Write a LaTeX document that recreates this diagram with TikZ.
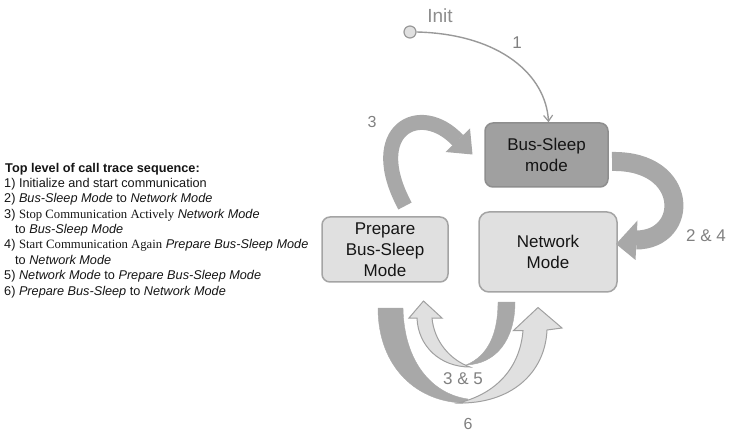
\documentclass[tikz,border=0pt]{standalone}
\usepackage{fontspec}
\setmainfont{Liberation Sans}
\newfontfamily\serifface{Liberation Serif}
\usetikzlibrary{arrows.meta,calc}

\definecolor{boxlight}{HTML}{E0E0E0}
\definecolor{boxedge}{HTML}{A4A4A4}
\definecolor{boxdark}{HTML}{A0A0A0}
\definecolor{boxdarkedge}{HTML}{8E8E8E}
\definecolor{bandgrey}{HTML}{A8A8A8}
\definecolor{bandlight}{HTML}{E0E0E0}
\definecolor{bandedge}{HTML}{A0A0A0}
\definecolor{labelgrey}{HTML}{808080}
\definecolor{textdark}{HTML}{151515}

\tikzset{
  statebox/.style={rectangle, rounded corners=8pt, line width=1.5pt,
    align=center, inner sep=0pt, text=textdark,
    font=\fontsize{17}{21}\selectfont},
  lightbox/.style={statebox, fill=boxlight, draw=boxedge},
  darkbox/.style={statebox, fill=boxdark, draw=boxdarkedge},
  steplabel/.style={text=labelgrey, inner sep=0pt, font=\fontsize{17}{20}\selectfont},
  legendline/.style={anchor=base west, inner sep=0pt, text=textdark,
    font=\fontsize{12.7}{15}\selectfont},
  initline/.style={draw=labelgrey!80, line width=1.4pt,
    -{Straight Barb[length=6pt,width=9pt,line width=1.2pt]}},
  darkband/.style={fill=bandgrey, draw=bandgrey, line width=0.4pt},
  lightband/.style={fill=bandlight, draw=bandedge, line width=1pt, line join=miter},
}

\begin{document}
\begin{tikzpicture}[x=1pt,y=-1pt]
\useasboundingbox (0,0) rectangle (730,435);

% ---- legend ----
\node[legendline] (l0) at (5,172.3) {\textbf{Top level of call trace sequence:}};
\node[legendline] (l1) at (4,187.6) {1) Initialize and start communication};
\node[legendline] (l2) at (4,203.0) {2) \textit{Bus-Sleep Mode} to \textit{Network Mode}};
\node[legendline] (l3) at (4,218.3) {3) {\serifface Stop Communication Actively} \textit{Network Mode}};
\node[legendline] (l4) at (15,233.7) {to \textit{Bus-Sleep Mode}};
\node[legendline] (l5) at (4,249.0) {4) {\serifface Start Communication Again} \textit{Prepare Bus-Sleep Mode}};
\node[legendline] (l6) at (15,264.4) {to \textit{Network Mode}};
\node[legendline] (l7) at (4,279.7) {5) \textit{Network Mode} to \textit{Prepare Bus-Sleep Mode}};
\node[legendline] (l8) at (4,295.1) {6) \textit{Prepare Bus-Sleep} to \textit{Network Mode}};

% ---- states ----
\node[darkbox, minimum width=123pt, minimum height=64pt] (bus) at (546.5,155) {Bus-Sleep\\mode};
\node[lightbox, rounded corners=10pt, minimum width=138pt, minimum height=80pt] (net) at (548,252) {Network\\Mode};
\node[lightbox, minimum width=126pt, minimum height=65pt] (prep) at (385,249.5) {Prepare\\Bus-Sleep\\Mode};

% ---- initial state ----
\node[circle, minimum size=12pt, inner sep=0pt, fill=boxlight, draw=labelgrey!80, line width=1.2pt] (init) at (410,32) {};
\node[steplabel, font=\fontsize{19}{22}\selectfont, text=labelgrey!90] (initlbl) at (440,16) {Init};
\draw[initline] (init.east) .. controls (500,34) and (546,75) .. ([xshift=2pt]bus.north);
\node[steplabel] (t1) at (517,43) {1};

% ---- transition 3: Prepare Bus-Sleep -> Bus-Sleep ----
\draw[draw=bandgrey, line width=15pt] (405,206) .. controls (364,130) and (420,100) .. (458,140.5);
\fill[bandgrey] (470,128.5) -- (472.5,154.5) -- (445.5,152) -- cycle;
\node[steplabel, font=\fontsize{16}{19}\selectfont] (t3) at (372,122) {3};

% ---- transition 2 & 4: Bus-Sleep -> Network ----
\draw[draw=bandgrey, line width=19pt] (612,161.5) .. controls (690,160) and (690,240) .. (636,240);
\fill[bandgrey] (637.5,220.5) -- (616,244) -- (635.5,260) -- cycle;
\node[steplabel] (t24) at (706,236) {2 \& 4};

% ---- transition 6: Prepare Bus-Sleep -> Network (outer U) ----
\filldraw[darkband] (378,308) -- (403,308)
  .. controls (404,362) and (432,394) .. (468,399)
  -- (466,403)
  .. controls (418,403) and (378,368) .. cycle;
\filldraw[lightband] (458,403)
  .. controls (510,404) and (545,374) .. (547,330)
  -- (562,328) -- (538,307.5) -- (513.5,330.5) -- (523,330.5)
  .. controls (520,368) and (496,394) .. (458,403) -- cycle;

% ---- transition 5: Network -> Prepare Bus-Sleep (inner U) ----
\filldraw[darkband] (498,302) -- (515,302)
  .. controls (515,340) and (496,364) .. (466,365)
  .. controls (488,356) and (498,334) .. cycle;
\filldraw[lightband] (470,367)
  .. controls (440,367) and (418,346) .. (417,318)
  -- (409,318) -- (423.5,301) -- (442,318) -- (432,318)
  .. controls (434,341) and (450,360) .. (470,367) -- cycle;

\node[steplabel] (t35) at (463,379) {3 \& 5};
\node[steplabel, font=\fontsize{16}{19}\selectfont] (t6) at (468,424) {6};

\end{tikzpicture}
\end{document}
